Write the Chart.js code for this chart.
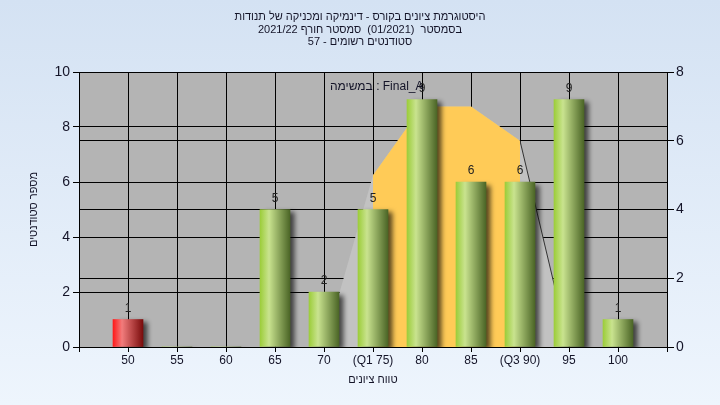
<!DOCTYPE html>
<html>
<head>
<meta charset="utf-8">
<script src="https://cdn.jsdelivr.net/npm/chart.js@4/dist/chart.umd.min.js"></script>
<style>
  html, body { margin: 0; padding: 0; }
  #wrap { width: 720px; height: 405px; }
</style>
</head>
<body>
<div id="wrap"><canvas id="chart"></canvas></div>
<script>
// histogram data
var scoreBins = [50, 55, 60, 65, 70, 75, 80, 85, 90, 95, 100];
var studentCounts = [1, 0, 0, 5, 2, 5, 9, 6, 6, 9, 1];
var countTicks = [0, 2, 4, 6, 8, 10];
var curveTicks = [0, 2, 4, 6, 8];

// distribution curve (right axis)
var curveX = [70, 75, 80, 85, 90, 95];
var curveY = [0, 5, 7, 7, 6, 0];
var q1 = 75, q3 = 90;
var failBelow = 55;

var titleLines = [
  'היסטוגרמת ציונים בקורס - דינמיקה ומכניקה של תנודות',
  'בסמסטר  (01/2021)  סמסטר חורף 2021/22',
  'סטודנטים רשומים - 57'
];
var xTitle = 'טווח ציונים';
var yTitle = 'מספר סטודנטים';
var taskNote = 'במשימה : Final_A';

var FONT = "'Liberation Sans', Arial, sans-serif";
var TEXT = '#141428';

function rtlText(c, text, x, y) {
  c.direction = 'rtl';
  c.textAlign = 'center';
  c.fillText(text, x, y);
}

function barGradient(ctx) {
  var chart = ctx.chart;
  var i = ctx.dataIndex;
  var fail = i !== undefined && scoreBins[i] < failBelow;
  var flat = fail ? '#e03030' : '#8cb444';
  if (!chart.scales || !chart.scales.x || i === undefined) return flat;
  var cx = chart.scales.x.getPixelForValue(scoreBins[i]);
  if (!isFinite(cx)) return flat;
  var g = chart.ctx.createLinearGradient(cx - 15, 0, cx + 15, 0);
  if (fail) {
    g.addColorStop(0, '#ff1a1a');
    g.addColorStop(0.3, '#f27c7c');
    g.addColorStop(1, '#7a0c0c');
  } else {
    g.addColorStop(0, '#9ccd3a');
    g.addColorStop(0.3, '#c9e38f');
    g.addColorStop(1, '#4b6526');
  }
  return g;
}

var barPoints = scoreBins.map(function (b, i) { return { x: b, y: studentCounts[i] }; });
var curvePoints = curveX.map(function (x, i) { return { x: x, y: curveY[i] }; });
var quartilePoints = curvePoints.filter(function (p) { return p.x >= q1 && p.x <= q3; });

var bgPlugin = {
  id: 'bg',
  beforeDraw: function (chart) {
    var c = chart.ctx;
    var g = c.createLinearGradient(0, 0, 0, chart.height);
    g.addColorStop(0, '#d4e2f3');
    g.addColorStop(1, '#eef5fd');
    c.save();
    c.fillStyle = g;
    c.fillRect(0, 0, chart.width, chart.height);
    var a = chart.chartArea;
    c.fillStyle = '#b4b4b4';
    c.fillRect(a.left, a.top, a.right - a.left, a.bottom - a.top);
    c.restore();
  }
};

var shadowPlugin = {
  id: 'barShadow',
  beforeDatasetDraw: function (chart, args) {
    if (args.index !== 0) return;
    var c = chart.ctx;
    c.save();
    c.shadowColor = 'rgba(0,0,0,0.65)';
    c.shadowBlur = 5;
    c.shadowOffsetX = 5;
    c.shadowOffsetY = 3;
  },
  afterDatasetDraw: function (chart, args) {
    if (args.index !== 0) return;
    chart.ctx.restore();
  }
};

var textPlugin = {
  id: 'texts',
  afterDatasetsDraw: function (chart) {
    var c = chart.ctx;
    c.save();
    c.font = '12px ' + FONT;
    c.fillStyle = '#222';
    c.textAlign = 'center';
    c.textBaseline = 'middle';
    chart.getDatasetMeta(0).data.forEach(function (el, i) {
      if (studentCounts[i] > 0) c.fillText(String(studentCounts[i]), el.x, el.y - 11);
    });
    c.fillStyle = TEXT;
    c.textAlign = 'left';
    c.fillText(taskNote, 330, 87);
    c.restore();
  },
  afterDraw: function (chart) {
    var c = chart.ctx;
    var a = chart.chartArea;
    c.save();
    c.fillStyle = TEXT;
    c.textBaseline = 'middle';
    c.font = '11px ' + FONT;
    titleLines.forEach(function (line, i) {
      rtlText(c, line, 360, 17 + i * 12.5);
    });
    rtlText(c, xTitle, (a.left + a.right) / 2, 380);
    c.translate(34, (a.top + a.bottom) / 2);
    c.rotate(-Math.PI / 2);
    rtlText(c, yTitle, 0, 0);
    c.restore();
  }
};

var ctx = document.getElementById('chart').getContext('2d');
var chart = new Chart(ctx, {
  type: 'bar',
  data: {
    datasets: [
      {
        type: 'bar',
        data: barPoints,
        backgroundColor: barGradient,
        borderWidth: 0,
        barThickness: 30,
        order: 0
      },
      {
        type: 'line',
        data: quartilePoints,
        yAxisID: 'y2',
        fill: 'origin',
        backgroundColor: '#ffcb57',
        borderWidth: 0,
        borderColor: 'rgba(0,0,0,0)',
        pointRadius: 0,
        tension: 0,
        order: 1
      },
      {
        type: 'line',
        data: curvePoints,
        yAxisID: 'y2',
        fill: 'origin',
        backgroundColor: '#c2c2c2',
        borderWidth: 1,
        borderColor: 'rgba(0,0,0,0)',
        segment: {
          borderColor: function (s) { return s.p0.parsed.x >= q3 ? '#333333' : 'rgba(0,0,0,0)'; }
        },
        pointRadius: 0,
        tension: 0,
        order: 2
      }
    ]
  },
  options: {
    responsive: true,
    maintainAspectRatio: false,
    animation: false,
    layout: { padding: { top: 72 } },
    plugins: {
      legend: { display: false },
      tooltip: { enabled: false },
      title: { display: false }
    },
    scales: {
      x: {
        type: 'linear',
        min: 45,
        max: 105,
        offset: false,
        afterFit: function (s) { s.height = 58; },
        afterBuildTicks: function (s) {
          var t = [45].concat(scoreBins, [105]);
          s.ticks = t.map(function (v) { return { value: v }; });
        },
        ticks: {
          color: TEXT,
          font: { family: FONT, size: 12 },
          padding: 1,
          maxRotation: 0,
          autoSkip: false,
          callback: function (v) {
            if (v === q1) return '(Q1 ' + v + ')';
            if (v === q3) return '(Q3 ' + v + ')';
            return scoreBins.indexOf(v) >= 0 ? String(v) : '';
          }
        },
        grid: { color: '#000', lineWidth: 1, tickLength: 5, offset: false },
        border: { color: '#000' }
      },
      y: {
        position: 'left',
        min: 0,
        max: 10,
        afterFit: function (s) { s.width = 79; },
        afterBuildTicks: function (s) {
          s.ticks = countTicks.map(function (v) { return { value: v }; });
        },
        ticks: { color: TEXT, font: { family: FONT, size: 14 }, padding: 3 },
        grid: { color: '#000', lineWidth: 1, tickLength: 6 },
        border: { color: '#000' }
      },
      y2: {
        position: 'right',
        min: 0,
        max: 8,
        afterFit: function (s) { s.width = 53; },
        afterBuildTicks: function (s) {
          s.ticks = curveTicks.map(function (v) { return { value: v }; });
        },
        ticks: { color: TEXT, font: { family: FONT, size: 14 }, padding: 2 },
        grid: { color: '#000', lineWidth: 1, tickLength: 7 },
        border: { color: '#000' }
      }
    }
  },
  plugins: [bgPlugin, shadowPlugin, textPlugin]
});
</script>
</body>
</html>
